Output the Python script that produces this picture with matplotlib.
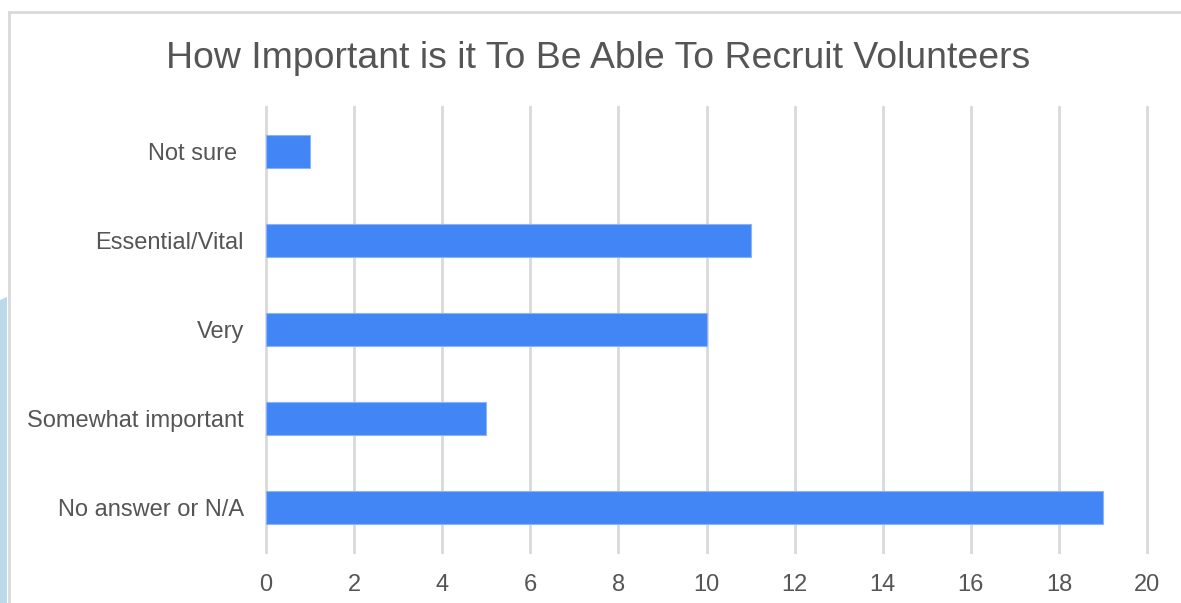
import matplotlib.pyplot as plt
from matplotlib.lines import Line2D
from matplotlib.patches import Polygon

categories = ["Not sure ", "Essential/Vital", "Very", "Somewhat important", "No answer or N/A"]
counts = [1, 11, 10, 5, 19]
x_ticks = [0, 2, 4, 6, 8, 10, 12, 14, 16, 18, 20]

TEXT = "#555555"
GRID = "#d9d9d9"
BAR = "#4285f4"


def main():
    plt.rcParams["font.family"] = ["Liberation Sans", "DejaVu Sans"]
    fig = plt.figure(figsize=(11.81, 6.03), dpi=100)
    W, H = 1181, 603

    # light blue strip on the left edge and the chart frame
    fig.patches.append(Polygon([(0, 0), (7 / W, 0), (7 / W, 1 - 297 / H), (0, 1 - 300 / H)],
                               closed=True, transform=fig.transFigure,
                               facecolor="#bcd9e9", edgecolor="none"))
    fig.lines.append(Line2D([8.5 / W, 8.5 / W], [0, 1 - 12 / H], transform=fig.transFigure,
                            color="#d9d9d9", lw=2))
    fig.lines.append(Line2D([8.5 / W, 1], [1 - 12 / H, 1 - 12 / H], transform=fig.transFigure,
                            color="#d9d9d9", lw=2))

    ax = fig.add_axes([266 / W, 1 - 552 / H, (1147 - 266) / W, (552 - 107) / H])
    y = list(range(len(categories)))
    ax.barh(y, counts, height=0.36, color=BAR, edgecolor="#8ab4f8", linewidth=0.8, zorder=3)
    ax.set_ylim(len(categories) - 0.5, -0.5)
    ax.set_xlim(0, 20)
    ax.set_xticks(x_ticks)
    ax.set_yticks(y)
    ax.set_yticklabels(categories)
    ax.xaxis.grid(True, color=GRID, lw=2, zorder=0)
    for gl in ax.get_xgridlines():
        gl.set_clip_on(False)
    for s in ax.spines.values():
        s.set_visible(False)
    ax.tick_params(axis="both", length=0, labelcolor=TEXT, labelsize=17)
    ax.tick_params(axis="x", pad=16)
    ax.tick_params(axis="y", pad=16)

    fig.text(598 / W, 1 - 58 / H, "How Important is it To Be Able To Recruit Volunteers",
             ha="center", va="center", color=TEXT, fontsize=26.9)
    fig.savefig("out.png", dpi=100)


if __name__ == "__main__":
    main()
